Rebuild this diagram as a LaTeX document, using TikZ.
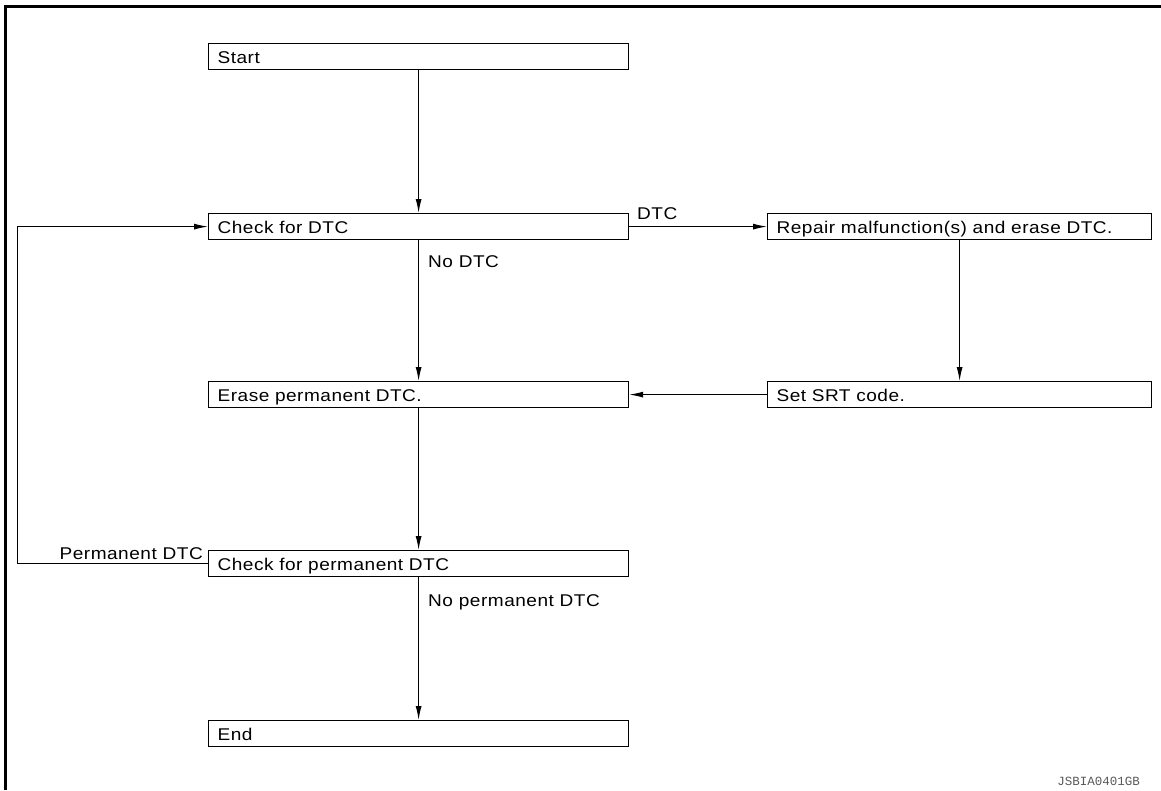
\documentclass[tikz,border=0pt]{standalone}
\usepackage{fontspec}
\usetikzlibrary{arrows.meta}
\newfontfamily\boxfont{Liberation Sans}[FakeStretch=1.12, LetterSpace=3]
\newfontfamily\codefont{Liberation Mono}
\begin{document}
\begin{tikzpicture}[x=1pt,y=-1pt,
  every node/.style={font=\boxfont\fontsize{17}{20}\selectfont},
  stepbox/.style={draw, line width=1.2pt, anchor=north west, minimum height=26pt,
    inner xsep=9pt, inner ysep=0pt, align=left, text height=13pt, text depth=0pt,
    text width=402pt},
  widebox/.style={stepbox, text width=366pt},
  arr/.style={line width=1.1pt, -{Latex[length=14pt,width=6pt]}},
  lbl/.style={inner sep=0pt}]
\useasboundingbox (0,0) rectangle (1161,790);
% frame
\draw[line width=2.8pt, line join=miter] (5.7,790) -- (5.7,6.3) -- (1161,6.3);
% boxes
\node[stepbox] (start) at (208,43) {Start};
\node[stepbox] (chk) at (208,213) {Check for DTC};
\node[widebox] (repair) at (767,213) {Repair malfunction(s) and erase DTC.};
\node[stepbox] (erase) at (208,381) {Erase permanent DTC.};
\node[widebox] (srt) at (767,381) {Set SRT code.};
\node[stepbox] (chkp) at (208,550) {Check for permanent DTC};
\node[stepbox] (end) at (208,720) {End};
% connectors
\draw[arr] (start.south) -- (chk.north);
\draw[arr] (chk.east) -- (repair.west);
\draw[arr] (chk.south) -- (erase.north);
\draw[arr] (repair.south) -- (srt.north);
\draw[arr] (srt.west) -- (erase.east);
\draw[arr] (erase.south) -- (chkp.north);
\draw[arr] (chkp.south) -- (end.north);
\coordinate (loopx) at (17.5,0);
\draw[arr] (chkp.west) -- (chkp.west -| loopx) |- (chk.west);
% labels
\node[lbl, anchor=base west] (ldtc) at (637,219) {DTC};
\node[lbl, anchor=base west] (lnodtc) at (428,267) {No DTC};
\node[lbl, anchor=base east] (lperm) at (203,559) {Permanent DTC};
\node[lbl, anchor=base west] (lnoperm) at (428,606) {No permanent DTC};
\node[lbl, anchor=base east, font=\codefont\fontsize{12.5}{14}\selectfont, text=black!65] (code) at (1140,785) {JSBIA0401GB};
\end{tikzpicture}
\end{document}
